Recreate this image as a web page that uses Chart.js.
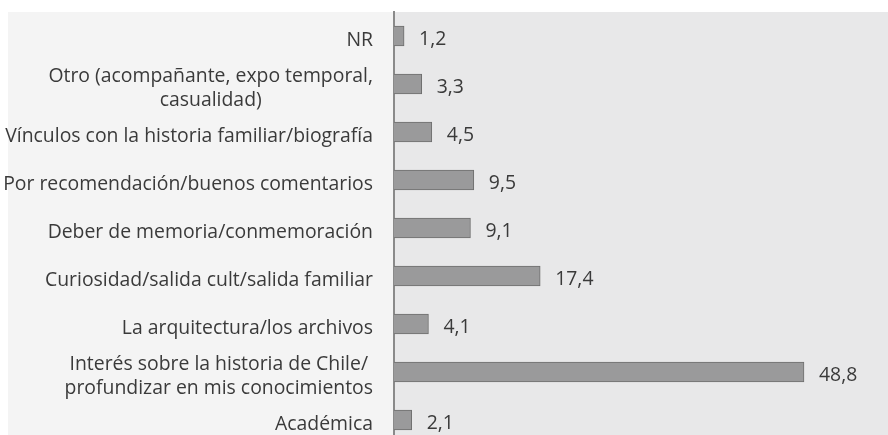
<!DOCTYPE html>
<html>
<head>
<meta charset="utf-8">
<script src="https://cdn.jsdelivr.net/npm/chart.js@4/dist/chart.umd.min.js"></script>
<style>
html,body{margin:0;padding:0;background:#fff;overflow:hidden;width:888px;height:435px;}
canvas{display:block;}
</style>
</head>
<body>
<canvas id="c" width="888" height="444"></canvas>
<script>
const categories = [
  ["NR"],
  ["Otro (acompañante, expo temporal,", "casualidad)"],
  ["Vínculos con la historia familiar/biografía"],
  ["Por recomendación/buenos comentarios"],
  ["Deber de memoria/conmemoración"],
  ["Curiosidad/salida cult/salida familiar"],
  ["La arquitectura/los archivos"],
  ["Interés sobre la historia de Chile/", "profundizar en mis conocimientos"],
  ["Académica"]
];
const values = [1.2, 3.3, 4.5, 9.5, 9.1, 17.4, 4.1, 48.8, 2.1];
const valueLabels = values.map(v => v.toFixed(1).replace('.', ','));

const FAMILY = '"Open Sans"';
const TEXT = '#3a3a3a';
let FONT = '16px ' + FAMILY;

const bgPlugin = {
  id: 'bg',
  beforeDraw(chart) {
    const ctx = chart.ctx, a = chart.chartArea;
    ctx.save();
    ctx.fillStyle = '#ffffff';
    ctx.fillRect(0, 0, chart.width, chart.height);
    ctx.fillStyle = '#f4f4f4';
    ctx.fillRect(8, a.top, a.left - 8, chart.height - a.top);
    ctx.fillStyle = '#e8e8e9';
    ctx.fillRect(a.left, a.top, a.right - a.left, chart.height - a.top);
    ctx.restore();
  }
};

const labelPlugin = {
  id: 'labels',
  afterDraw(chart) {
    const ctx = chart.ctx;
    const ys = chart.scales.y;
    const meta = chart.getDatasetMeta(0);
    ctx.save();
    ctx.font = '100px ' + FAMILY;
    const wRef = ctx.measureText(categories[2][0]).width;
    const size = 368 / wRef * 100;
    ctx.font = size.toFixed(2) + 'px ' + FAMILY;
    ctx.fillStyle = TEXT;
    ctx.textBaseline = 'middle';
    const right = 373, lh = 24;
    categories.forEach((lines, i) => {
      const yc = ys.getPixelForValue(i) + 4;
      const w = Math.max(...lines.map(l => ctx.measureText(l).width));
      const cx = right - w / 2;
      ctx.textAlign = 'center';
      lines.forEach((l, k) => {
        const y = yc + (k - (lines.length - 1) / 2) * lh;
        ctx.fillText(l, cx, y);
      });
    });
    ctx.textAlign = 'left';
    meta.data.forEach((bar, i) => {
      ctx.fillText(valueLabels[i], bar.x + 15, bar.y + 3);
    });
    ctx.restore();
  }
};

new Chart(document.getElementById('c'), {
  type: 'bar',
  data: {
    labels: categories,
    datasets: [{
      data: values,
      backgroundColor: '#9a9a9b',
      borderColor: '#6e6e6e',
      borderWidth: 1,
      borderSkipped: 'left',
      barThickness: 20
    }]
  },
  options: {
    indexAxis: 'y',
    responsive: false,
    animation: false,
    layout: { padding: { top: 12, right: 0, bottom: 0, left: 0 } },
    plugins: { legend: { display: false }, tooltip: { enabled: false } },
    scales: {
      x: { display: false, min: 0, max: 58.8 },
      y: {
        grid: { display: false, drawTicks: false },
        border: { display: true, color: '#8a8a8a', width: 2 },
        ticks: { display: false },
        afterFit(s) { s.width = 394; }
      }
    }
  },
  plugins: [bgPlugin, labelPlugin]
});
</script>
</body>
</html>
